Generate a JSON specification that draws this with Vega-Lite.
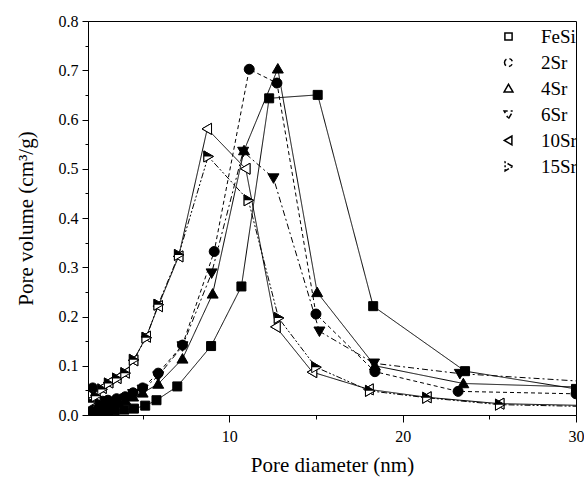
{
  "$schema": "https://vega.github.io/schema/vega-lite/v6.json",
  "width": 488,
  "height": 394,
  "autosize": {"type": "none"},
  "padding": {"left": 88, "top": 21, "right": 8, "bottom": 62},
  "background": "white",
  "config": {
    "view": {"stroke": "black", "strokeWidth": 1},
    "font": "Liberation Serif",
    "axis": {
      "domainColor": "black", "tickColor": "black", "labelColor": "black", "titleColor": "black",
      "labelFont": "Liberation Serif", "titleFont": "Liberation Serif",
      "labelFontSize": 16, "titleFontSize": 21, "titleFontWeight": "normal",
      "grid": false, "domainWidth": 1, "tickWidth": 1
    }
  },
  "data": {"values": [
    {"s": "FeSi", "d": 2.0, "v": 0.005}, {"s": "FeSi", "d": 2.2, "v": 0.006}, {"s": "FeSi", "d": 2.45, "v": 0.007},
    {"s": "FeSi", "d": 2.7, "v": 0.008}, {"s": "FeSi", "d": 3.0, "v": 0.009}, {"s": "FeSi", "d": 3.4, "v": 0.010},
    {"s": "FeSi", "d": 3.95, "v": 0.011}, {"s": "FeSi", "d": 4.5, "v": 0.013}, {"s": "FeSi", "d": 5.15, "v": 0.019},
    {"s": "FeSi", "d": 5.8, "v": 0.030}, {"s": "FeSi", "d": 7.0, "v": 0.058}, {"s": "FeSi", "d": 8.95, "v": 0.140},
    {"s": "FeSi", "d": 10.7, "v": 0.261}, {"s": "FeSi", "d": 12.3, "v": 0.643}, {"s": "FeSi", "d": 15.1, "v": 0.650},
    {"s": "FeSi", "d": 18.3, "v": 0.221}, {"s": "FeSi", "d": 23.6, "v": 0.089}, {"s": "FeSi", "d": 30.0, "v": 0.053},

    {"s": "2Sr", "d": 2.12, "v": 0.055}, {"s": "2Sr", "d": 2.4, "v": 0.030}, {"s": "2Sr", "d": 2.7, "v": 0.028},
    {"s": "2Sr", "d": 3.0, "v": 0.030}, {"s": "2Sr", "d": 3.5, "v": 0.033}, {"s": "2Sr", "d": 4.0, "v": 0.037},
    {"s": "2Sr", "d": 4.45, "v": 0.045}, {"s": "2Sr", "d": 5.0, "v": 0.055}, {"s": "2Sr", "d": 5.9, "v": 0.085},
    {"s": "2Sr", "d": 7.3, "v": 0.142}, {"s": "2Sr", "d": 9.13, "v": 0.332}, {"s": "2Sr", "d": 11.15, "v": 0.702},
    {"s": "2Sr", "d": 12.75, "v": 0.674}, {"s": "2Sr", "d": 15.0, "v": 0.205}, {"s": "2Sr", "d": 18.4, "v": 0.088},
    {"s": "2Sr", "d": 23.2, "v": 0.048}, {"s": "2Sr", "d": 30.0, "v": 0.043},

    {"s": "4Sr", "d": 2.0, "v": 0.015}, {"s": "4Sr", "d": 2.4, "v": 0.018}, {"s": "4Sr", "d": 2.8, "v": 0.020},
    {"s": "4Sr", "d": 3.2, "v": 0.022}, {"s": "4Sr", "d": 3.6, "v": 0.025}, {"s": "4Sr", "d": 4.0, "v": 0.030},
    {"s": "4Sr", "d": 4.45, "v": 0.037}, {"s": "4Sr", "d": 5.0, "v": 0.045}, {"s": "4Sr", "d": 5.9, "v": 0.063},
    {"s": "4Sr", "d": 7.3, "v": 0.114}, {"s": "4Sr", "d": 9.04, "v": 0.246}, {"s": "4Sr", "d": 10.85, "v": 0.537},
    {"s": "4Sr", "d": 12.8, "v": 0.703}, {"s": "4Sr", "d": 15.07, "v": 0.249}, {"s": "4Sr", "d": 18.4, "v": 0.100},
    {"s": "4Sr", "d": 23.5, "v": 0.064}, {"s": "4Sr", "d": 31.0, "v": 0.056},

    {"s": "6Sr", "d": 2.0, "v": 0.020}, {"s": "6Sr", "d": 2.4, "v": 0.022}, {"s": "6Sr", "d": 2.8, "v": 0.025},
    {"s": "6Sr", "d": 3.2, "v": 0.027}, {"s": "6Sr", "d": 3.6, "v": 0.030}, {"s": "6Sr", "d": 4.0, "v": 0.034},
    {"s": "6Sr", "d": 4.45, "v": 0.043}, {"s": "6Sr", "d": 5.0, "v": 0.052}, {"s": "6Sr", "d": 5.9, "v": 0.079},
    {"s": "6Sr", "d": 7.3, "v": 0.140}, {"s": "6Sr", "d": 8.98, "v": 0.288}, {"s": "6Sr", "d": 10.8, "v": 0.535},
    {"s": "6Sr", "d": 12.55, "v": 0.481}, {"s": "6Sr", "d": 15.2, "v": 0.170}, {"s": "6Sr", "d": 18.35, "v": 0.105},
    {"s": "6Sr", "d": 23.3, "v": 0.084}, {"s": "6Sr", "d": 31.0, "v": 0.067},

    {"s": "10Sr", "d": 2.0, "v": 0.030}, {"s": "10Sr", "d": 2.3, "v": 0.040}, {"s": "10Sr", "d": 2.66, "v": 0.055},
    {"s": "10Sr", "d": 3.04, "v": 0.066}, {"s": "10Sr", "d": 3.51, "v": 0.075}, {"s": "10Sr", "d": 3.99, "v": 0.086},
    {"s": "10Sr", "d": 4.48, "v": 0.111}, {"s": "10Sr", "d": 5.21, "v": 0.159}, {"s": "10Sr", "d": 5.9, "v": 0.221},
    {"s": "10Sr", "d": 7.08, "v": 0.322}, {"s": "10Sr", "d": 8.73, "v": 0.581}, {"s": "10Sr", "d": 10.95, "v": 0.500},
    {"s": "10Sr", "d": 12.69, "v": 0.179}, {"s": "10Sr", "d": 14.8, "v": 0.087}, {"s": "10Sr", "d": 18.06, "v": 0.052},
    {"s": "10Sr", "d": 21.4, "v": 0.036}, {"s": "10Sr", "d": 25.6, "v": 0.023}, {"s": "10Sr", "d": 31.0, "v": 0.019},

    {"s": "15Sr", "d": 2.0, "v": 0.025}, {"s": "15Sr", "d": 2.3, "v": 0.038}, {"s": "15Sr", "d": 2.66, "v": 0.052},
    {"s": "15Sr", "d": 3.04, "v": 0.064}, {"s": "15Sr", "d": 3.51, "v": 0.074}, {"s": "15Sr", "d": 3.99, "v": 0.085},
    {"s": "15Sr", "d": 4.48, "v": 0.112}, {"s": "15Sr", "d": 5.21, "v": 0.157}, {"s": "15Sr", "d": 5.9, "v": 0.224},
    {"s": "15Sr", "d": 7.08, "v": 0.325}, {"s": "15Sr", "d": 8.78, "v": 0.525}, {"s": "15Sr", "d": 11.1, "v": 0.436},
    {"s": "15Sr", "d": 12.84, "v": 0.197}, {"s": "15Sr", "d": 15.0, "v": 0.097}, {"s": "15Sr", "d": 18.1, "v": 0.049},
    {"s": "15Sr", "d": 21.4, "v": 0.035}, {"s": "15Sr", "d": 25.6, "v": 0.021}, {"s": "15Sr", "d": 31.0, "v": 0.017}
  ]},
  "encoding": {
    "x": {
      "field": "d", "type": "quantitative",
      "scale": {"domain": [1.85, 30], "nice": false, "zero": false},
      "axis": {
        "title": "Pore diameter (nm)",
        "values": [5, 10, 15, 20, 25, 30],
        "labelExpr": "datum.value % 10 === 0 ? datum.label : ''",
        "tickSize": {"condition": {"test": "datum.value % 10 === 0", "value": 7}, "value": 4},
        "labelPadding": 6,
        "titlePadding": 10,
        "labelFlush": false
      }
    },
    "y": {
      "field": "v", "type": "quantitative",
      "scale": {"domain": [0, 0.8], "nice": false},
      "axis": {
        "title": "Pore volume (cm³/g)",
        "values": [0, 0.05, 0.1, 0.15, 0.2, 0.25, 0.3, 0.35, 0.4, 0.45, 0.5, 0.55, 0.6, 0.65, 0.7, 0.75, 0.8],
        "labelExpr": "abs(datum.value * 10 - round(datum.value * 10)) < 0.001 ? format(datum.value, '.1f') : ''",
        "tickSize": {"condition": {"test": "abs(datum.value * 10 - round(datum.value * 10)) < 0.001", "value": 6}, "value": 3},
        "labelPadding": 4,
        "titlePadding": 22,
        "labelFlush": false
      }
    }
  },
  "layer": [
    {
      "mark": {"type": "line", "color": "black", "strokeWidth": 1, "clip": true},
      "encoding": {
        "strokeDash": {
          "field": "s", "type": "nominal", "title": "Sample",
          "scale": {"domain": ["FeSi", "2Sr", "4Sr", "6Sr", "10Sr", "15Sr"],
                    "range": [[1, 0], [4, 3], [1, 0], [6, 3, 2, 3], [1, 0], [6, 2, 2, 2, 2, 2]]},
          "legend": {
            "title": null, "orient": "none", "legendX": 411, "legendY": 6, "padding": 0,
            "symbolSize": 64, "labelFont": "Liberation Serif", "labelFontSize": 19,
            "labelColor": "black", "labelOffset": 23, "rowPadding": 6
          }
        }
      }
    },
    {
      "mark": {"type": "point", "filled": true, "fill": "black", "stroke": "black", "strokeWidth": 1, "size": 100, "opacity": 1, "clip": true},
      "encoding": {
        "shape": {
          "field": "s", "type": "nominal", "title": "Sample",
          "scale": {"domain": ["FeSi", "2Sr", "4Sr", "6Sr", "10Sr", "15Sr"],
                    "range": [
                      "M-0.9,-0.9H0.9V0.9H-0.9Z",
                      "M-1,0A1,1,0,1,1,1,0A1,1,0,1,1,-1,0Z",
                      "M0,-1.05L1.1,0.85L-1.1,0.85Z",
                      "M0,1.05L1.1,-0.85L-1.1,-0.85Z",
                      "M-1.05,0L0.85,-1.1L0.85,1.1Z",
                      "M1.05,0L-0.85,-1.1L-0.85,1.1Z"
                    ]},
          "legend": {
            "title": null, "orient": "none", "legendX": 411, "legendY": 6, "padding": 0,
            "symbolSize": 64, "labelFont": "Liberation Serif", "labelFontSize": 19,
            "labelColor": "black", "labelOffset": 23, "rowPadding": 6
          }
        }
      }
    },
    {
      "transform": [{"filter": "datum.s === '10Sr'"}],
      "mark": {"type": "point", "filled": true, "fill": "white", "stroke": "black", "strokeWidth": 1, "size": 100, "opacity": 1, "clip": true,
               "shape": "M-1.05,0L0.85,-1.1L0.85,1.1Z"}
    },
    {
      "transform": [{"filter": "datum.s === '15Sr'"}],
      "mark": {"type": "point", "filled": true, "fill": "white", "stroke": "black", "strokeWidth": 1, "size": 100, "opacity": 1, "clip": true,
               "shape": "M1.05,0L-0.85,-1.1L-0.85,1.1Z"}
    },
    {
      "transform": [{"filter": "datum.s === '15Sr'"}],
      "mark": {"type": "point", "filled": true, "fill": "black", "strokeWidth": 0, "size": 100, "opacity": 1, "clip": true,
               "shape": "M1.05,0L-0.85,-1.1L-0.85,0Z"}
    }
  ]
}
